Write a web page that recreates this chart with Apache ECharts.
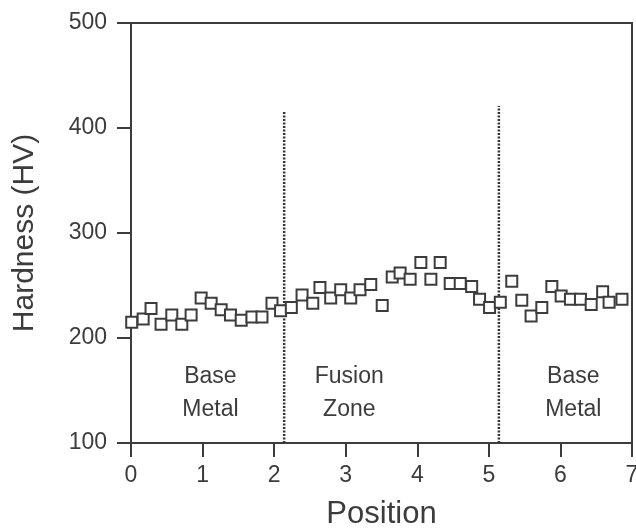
<!DOCTYPE html>
<html>
<head>
<meta charset="utf-8">
<script src="https://cdn.jsdelivr.net/npm/echarts@6/dist/echarts.min.js"></script>
<style>
  html, body { margin: 0; padding: 0; background: #fff; }
  #chart-1 { width: 636px; height: 529px; }
</style>
</head>
<body>
<div id="chart-1"></div>
<script>
/************************        Hardness profile across the weld        **************************/

var positions = [0.01, 0.17, 0.28, 0.42, 0.57, 0.71, 0.84, 0.98, 1.12, 1.26,
                 1.39, 1.54, 1.69, 1.83, 1.97, 2.09, 2.24, 2.39, 2.54, 2.64,
                 2.79, 2.93, 3.07, 3.20, 3.35, 3.51, 3.65, 3.76, 3.90, 4.05,
                 4.19, 4.32, 4.46, 4.60, 4.76, 4.87, 5.01, 5.16, 5.32, 5.46,
                 5.59, 5.74, 5.88, 6.01, 6.14, 6.28, 6.43, 6.59, 6.68, 6.86];
var hardness  = [215, 218, 228, 213, 222, 213, 222, 238, 233, 227,
                 222, 217, 220, 220, 233, 226, 229, 241, 233, 248,
                 238, 246, 238, 246, 251, 231, 258, 262, 256, 272,
                 256, 272, 252, 252, 249, 237, 229, 234, 254, 236,
                 221, 229, 249, 240, 237, 237, 232, 244, 234, 237];

// zone boundaries (dotted lines): position, top of line
var boundaryPos = [2.14, 5.14];
var boundaryTop = [416, 421];

// zone labels: position, height, text
var zoneNames = ['Base\nMetal', 'Fusion\nZone', 'Base\nMetal'];
var zonePos   = [1.11, 3.05, 6.18];
var zoneY     = [147, 147, 147];

var xTicks = [0, 7, 1];   // min, max, interval
var yTicks = [100, 500, 100];

var ink = '#3c3c3c';
var font = 'Liberation Sans';

var points = positions.map(function (p, i) { return [p, hardness[i]]; });
var zoneData = zoneNames.map(function (n, i) { return { value: [zonePos[i], zoneY[i]], name: n }; });

var boundarySeries = boundaryPos.map(function (p, i) {
    return {
        type: 'line',
        data: [[p, yTicks[0]], [p, boundaryTop[i]]],
        symbol: 'none',
        silent: true,
        lineStyle: { color: '#333', width: 2.5, type: [2, 1.5], opacity: 1 },
        z: 1
    };
});

var dom = document.getElementById('chart-1');
var myChart = echarts.init(dom, null, { renderer: 'canvas' });
var option = {
    animation: false,
    backgroundColor: '#fff',
    grid: {
        left: 131, right: 4, top: 23, bottom: 86,
        containLabel: false,
        outerBoundsMode: 'none',
        show: true, borderColor: ink, borderWidth: 2, backgroundColor: 'transparent'
    },
    xAxis: {
        type: 'value',
        min: xTicks[0], max: xTicks[1], interval: xTicks[2],
        name: 'Position',
        nameLocation: 'middle',
        nameGap: 56,
        nameTextStyle: { fontFamily: font, fontSize: 31, color: ink },
        axisLine: { show: true, lineStyle: { color: ink, width: 2 } },
        axisTick: { show: true, inside: false, length: 14, lineStyle: { color: ink, width: 2 } },
        axisLabel: { margin: 21, fontFamily: font, fontSize: 23, color: ink },
        splitLine: { show: false }
    },
    yAxis: {
        type: 'value',
        min: yTicks[0], max: yTicks[1], interval: yTicks[2],
        name: 'Hardness (HV)',
        nameLocation: 'middle',
        nameGap: 91,
        nameTextStyle: { fontFamily: font, fontSize: 30, color: ink },
        axisLine: { show: true, lineStyle: { color: ink, width: 2 } },
        axisTick: { show: true, inside: false, length: 14, lineStyle: { color: ink, width: 2 } },
        axisLabel: { margin: 24, fontFamily: font, fontSize: 23, color: ink },
        splitLine: { show: false }
    },
    series: boundarySeries.concat([
        {
            type: 'scatter',
            data: points,
            symbol: 'rect',
            symbolSize: 11,
            itemStyle: { color: '#fff', borderColor: ink, borderWidth: 2, opacity: 1 },
            z: 3
        },
        {
            type: 'scatter',
            data: zoneData,
            symbolSize: 0,
            silent: true,
            itemStyle: { opacity: 1 },
            label: {
                show: true,
                position: 'inside',
                formatter: '{b}',
                fontFamily: font,
                fontSize: 23,
                lineHeight: 33,
                color: ink,
                opacity: 1,
                textBorderWidth: 0,
                align: 'center'
            }
        }
    ])
};

myChart.setOption(option);
</script>
</body>
</html>
